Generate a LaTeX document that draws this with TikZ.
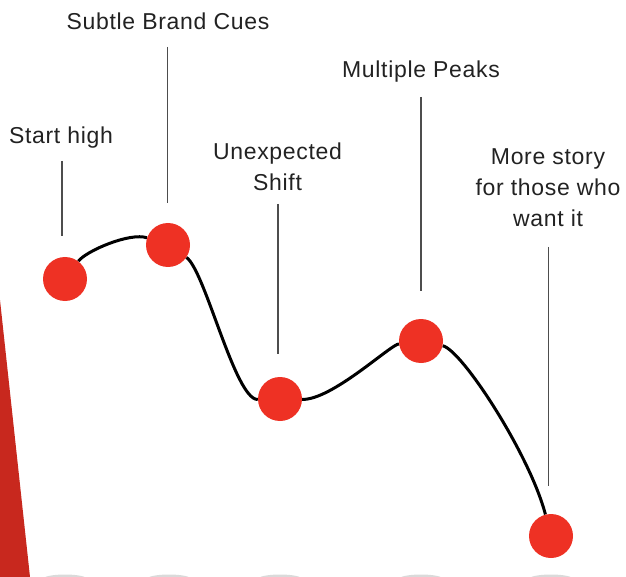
\documentclass[tikz,border=0pt]{standalone}
\usepackage{fontspec}
\setmainfont{Liberation Sans}[LetterSpace=3]
\definecolor{dotred}{HTML}{EE3124}
\definecolor{wedgered}{HTML}{C8281E}
\definecolor{shadowgray}{HTML}{DADADA}
\definecolor{labeltext}{HTML}{222222}
\definecolor{leadgray}{HTML}{4D4D4D}
\pgfdeclarelayer{background}
\pgfsetlayers{background,main}
\begin{document}
\begin{tikzpicture}[x=1pt,y=-1pt,
  dot/.style={circle,fill=dotred,minimum size=44pt,inner sep=0pt},
  shade/.style={fill=shadowgray},
  lbl/.style={font=\fontsize{23}{31}\selectfont,text=labeltext,align=center,inner sep=0pt,anchor=base},
  leader/.style={draw=leadgray,line width=1.3pt},
  curveline/.style={draw=black,line width=3pt}]
\useasboundingbox (0,0) rectangle (626,577);
\begin{scope}
\clip (0,0) rectangle (626,577);
% red wedge on the left
\fill[wedgered] (0,300) -- (30,577) -- (0,577) -- cycle;
% floor shadows
\foreach \x in {65,169,280,421,551} {\fill[shade] (\x,579) ellipse (22pt and 4.5pt);}
\end{scope}
% points
\node[dot] (c1) at (65,279) {};
\node[dot] (c2) at (168,245) {};
\node[dot] (c3) at (280,399) {};
\node[dot] (c4) at (421,341) {};
\node[dot] (c5) at (551,536) {};
% curve behind the points
\begin{pgfonlayer}{background}
\draw[curveline] (c1) .. controls (86,251) and (130,232) .. (c2);
\draw[curveline] (c2) .. controls (205,270) and (235,400) .. (c3);
\draw[curveline] (c3) .. controls (332,400) and (390,345) .. (c4);
\draw[curveline] (c4) .. controls (462,350) and (530,455) .. (c5);
\end{pgfonlayer}
% labels
\node[lbl] (t1) at (61,144) {Start high};
\node[lbl] (t2) at (168,30) {Subtle Brand Cues};
\node[lbl] (t3) at (277.5,190.5) {Unexpected\\Shift};
\node[lbl] (t4) at (421,78) {Multiple Peaks};
\node[lbl] (t5) at (548,227) {More story\\for those who\\want it};
% leader lines
\coordinate (a1) at (62,161); \coordinate (b1) at (62,236);
\coordinate (a2) at (167.5,47); \coordinate (b2) at (167.5,203);
\coordinate (a3) at (278,204); \coordinate (b3) at (278,354);
\coordinate (a4) at (421,97); \coordinate (b4) at (421,291);
\coordinate (a5) at (548.5,247); \coordinate (b5) at (548.5,486);
\foreach \i in {1,...,5} {\draw[leader] (a\i) -- (b\i);}
\end{tikzpicture}
\end{document}
